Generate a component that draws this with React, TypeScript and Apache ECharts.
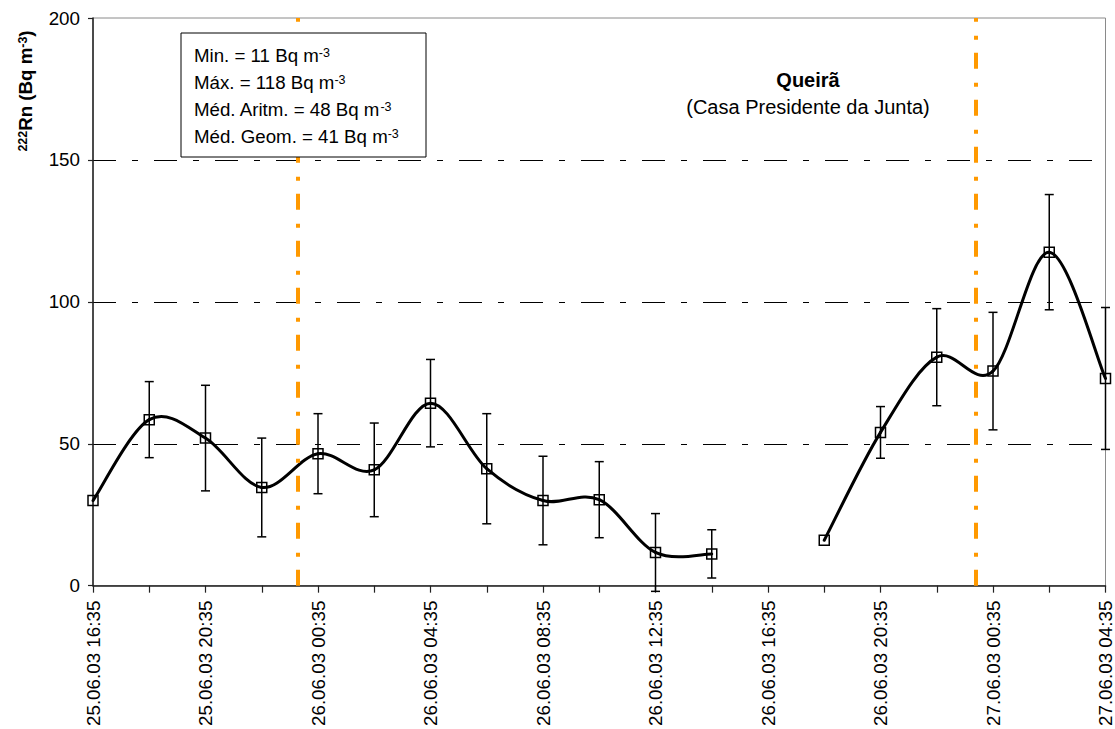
import React, { useEffect, useRef } from 'react';
import * as echarts from 'echarts';

// Hours elapsed since 25.06.03 16:35 (one reading every 2 hours)
const hoursElapsed = [0, 2, 4, 6, 8, 10, 12, 14, 16, 18, 20, 22, 24, 26, 28, 30, 32, 34, 36];
// 222Rn concentration (Bq m-3); null = no reading
const radon = [30, 58.5, 52, 34.6, 46.5, 40.8, 64.3, 41.2, 30, 30.3, 11.7, 11.2, null, 16, 54, 80.5, 75.6, 117.5, 73];
// Uncertainty (±, Bq m-3); null = no bar drawn
const radonError = [null, 13.4, 18.6, 17.4, 14.1, 16.5, 15.4, 19.4, 15.6, 13.4, 13.7, 8.5, null, null, 9.1, 17.1, 20.7, 20.3, 25];
// Time axis labels, every 4 hours
const xTickLabels = [
  '25.06.03 16:35', '25.06.03 20:35', '26.06.03 00:35', '26.06.03 04:35', '26.06.03 08:35',
  '26.06.03 12:35', '26.06.03 16:35', '26.06.03 20:35', '27.06.03 00:35', '27.06.03 04:35',
];
const yTicks = [0, 50, 100, 150, 200];
// Vertical reference lines (hours elapsed)
const markerHours = [7.29, 31.38];
// Summary statistics
const statLines = ['Min. = 11 Bq m', 'Máx. = 118 Bq m', 'Méd. Aritm. = 48 Bq m', 'Méd. Geom. = 41 Bq m'];
const titleText = 'Queirã';
const subtitleText = '(Casa Presidente da Junta)';

const FONT = '"Liberation Sans", Arial, sans-serif';

export default function App() {
  const ref = useRef<HTMLDivElement>(null);

  useEffect(() => {
    if (!ref.current) return;
    const chart = echarts.init(ref.current, undefined, { renderer: 'svg' });

    const has = (i: number) => i >= 0 && i < radon.length && radon[i] != null;

    // Marker points
    const pointData = hoursElapsed
      .map((h, i) => (has(i) ? [h, radon[i]] : null))
      .filter((d) => d !== null);

    // Error bars
    const errData = hoursElapsed
      .map((h, i) => (radonError[i] != null && has(i) ? [h, radon[i], radonError[i]] : null))
      .filter((d) => d !== null);

    // Smoothed curve segments: [x1, y1, x2, y2, xPrev, yPrev, xNext, yNext]
    const segData: number[][] = [];
    for (let i = 0; i < radon.length - 1; i++) {
      if (!has(i) || !has(i + 1)) continue;
      const p = has(i - 1) ? i - 1 : i;
      const n = has(i + 2) ? i + 2 : i + 1;
      segData.push([
        hoursElapsed[i], radon[i] as number,
        hoursElapsed[i + 1], radon[i + 1] as number,
        hoursElapsed[p], radon[p] as number,
        hoursElapsed[n], radon[n] as number,
      ]);
    }

    const supRich = {
      m: { fontSize: 18.7, fontFamily: FONT, color: '#000', lineHeight: 20, verticalAlign: 'top' },
      s: { fontSize: 12.5, fontFamily: FONT, color: '#000', lineHeight: 14, verticalAlign: 'top' },
    };

    const statTexts = statLines.map((t, i) => ({
      type: 'text',
      x: 194,
      y: 56 + i * 27,
      z: 101,
      style: {
        text: `{m|${t}}{s|-3}`,
        rich: supRich,
        align: 'left',
        verticalAlign: 'middle',
      },
    }));

    const option = {
      animation: false,
      grid: {
        left: 93,
        right: 8,
        top: 18,
        bottom: 143,
        show: true,
        borderColor: '#8a8a8a',
        borderWidth: 1,
      },
      xAxis: {
        type: 'value',
        min: 0,
        max: 36,
        interval: 4,
        axisLine: { show: true, onZero: false, lineStyle: { color: '#222', width: 1.5 } },
        axisTick: { show: true, length: 7, lineStyle: { color: '#222', width: 1.2 } },
        minorTick: { show: true, splitNumber: 2, length: 7, lineStyle: { color: '#222', width: 1.2 } },
        splitLine: { show: false },
        axisLabel: {
          rotate: 90,
          margin: 15,
          fontSize: 18.8,
          fontFamily: FONT,
          color: '#000',
          formatter: (v: number) => xTickLabels[Math.round(v / 4)] ?? '',
        },
      },
      yAxis: {
        type: 'value',
        min: 0,
        max: 200,
        interval: 50,
        axisLine: { show: true, onZero: false, lineStyle: { color: '#222', width: 1.5 } },
        axisTick: { show: true, length: 5, lineStyle: { color: '#222', width: 1.2 } },
        axisLabel: {
          margin: 13,
          fontSize: 18.8,
          fontFamily: FONT,
          color: '#000',
          formatter: (v: number) => (yTicks.includes(v) ? String(v) : ''),
        },
        splitLine: {
          show: true,
          lineStyle: {
            color: ['rgba(0,0,0,0)', '#000', '#000', '#000', 'rgba(0,0,0,0)'],
            width: 1,
            type: [23, 16, 6, 16],
          },
        },
      },
      series: [
        {
          // error bars
          type: 'custom',
          z: 3,
          clip: false,
          data: errData,
          encode: { x: 0, y: 1 },
          renderItem: (params: any, api: any) => {
            const x = api.value(0);
            const y = api.value(1);
            const e = api.value(2);
            const top = api.coord([x, y + e]);
            const bot = api.coord([x, y - e]);
            const hw = 4.5;
            const st = { stroke: '#000', lineWidth: 1.5 };
            return {
              type: 'group',
              children: [
                { type: 'line', shape: { x1: top[0], y1: top[1], x2: bot[0], y2: bot[1] }, style: st },
                { type: 'line', shape: { x1: top[0] - hw, y1: top[1], x2: top[0] + hw, y2: top[1] }, style: st },
                { type: 'line', shape: { x1: bot[0] - hw, y1: bot[1], x2: bot[0] + hw, y2: bot[1] }, style: st },
              ],
            };
          },
        },
        {
          // smoothed curve (Catmull-Rom style cubic segments)
          type: 'custom',
          z: 4,
          clip: false,
          data: segData,
          encode: { x: [0, 2], y: [1, 3] },
          renderItem: (params: any, api: any) => {
            const p1 = api.coord([api.value(0), api.value(1)]);
            const p2 = api.coord([api.value(2), api.value(3)]);
            const p0 = api.coord([api.value(4), api.value(5)]);
            const p3 = api.coord([api.value(6), api.value(7)]);
            return {
              type: 'bezierCurve',
              shape: {
                x1: p1[0], y1: p1[1],
                x2: p2[0], y2: p2[1],
                cpx1: p1[0] + (p2[0] - p0[0]) / 6,
                cpy1: p1[1] + (p2[1] - p0[1]) / 6,
                cpx2: p2[0] - (p3[0] - p1[0]) / 6,
                cpy2: p2[1] - (p3[1] - p1[1]) / 6,
              },
              style: { stroke: '#000', lineWidth: 3, fill: 'none', lineCap: 'round' },
            };
          },
        },
        {
          type: 'scatter',
          z: 5,
          data: pointData,
          symbol: 'rect',
          symbolSize: 10,
          itemStyle: { color: 'rgba(255,255,255,0)', borderColor: '#000', borderWidth: 1.5, opacity: 1 },
          markLine: {
            silent: true,
            symbol: 'none',
            label: { show: false },
            lineStyle: { color: '#FF9900', width: 4, type: [16, 13, 4, 14], cap: 'butt' },
            data: markerHours.map((h) => ({ xAxis: h })),
          },
        },
      ],
      graphic: [
        {
          type: 'text',
          x: 26,
          y: 91,
          rotation: Math.PI / 2,
          style: {
            text: '{s|222}{m|Rn (Bq m}{s|-3}{m|)}',
            rich: {
              m: { fontSize: 18.7, fontWeight: 'bold', fontFamily: FONT, color: '#000', lineHeight: 20, verticalAlign: 'top' },
              s: { fontSize: 12.5, fontWeight: 'bold', fontFamily: FONT, color: '#000', lineHeight: 14, verticalAlign: 'top' },
            },
            align: 'center',
            verticalAlign: 'middle',
          },
        },
        {
          type: 'rect',
          z: 100,
          shape: { x: 181, y: 33, width: 245, height: 124 },
          style: { fill: '#fff', stroke: '#000', lineWidth: 1 },
        },
        ...statTexts,
        {
          type: 'text',
          x: 808,
          y: 80,
          style: {
            text: titleText,
            font: `bold 20px ${FONT}`,
            fill: '#000',
            align: 'center',
            verticalAlign: 'middle',
          },
        },
        {
          type: 'text',
          x: 808,
          y: 107,
          style: {
            text: subtitleText,
            font: `20px ${FONT}`,
            fill: '#000',
            align: 'center',
            verticalAlign: 'middle',
          },
        },
      ],
    };

    chart.setOption(option as any);
    return () => chart.dispose();
  }, []);

  return (
    <div
      ref={ref}
      style={{ position: 'fixed', left: 0, top: 0, width: 1115, height: 729, background: '#fff' }}
    />
  );
}
